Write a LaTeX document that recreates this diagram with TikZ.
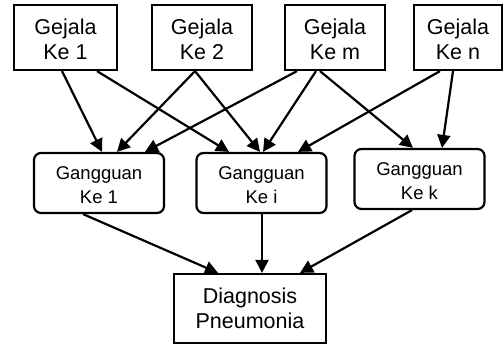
\documentclass[tikz,border=0pt]{standalone}
\usepackage{fontspec}
\setmainfont{Liberation Sans}
\usetikzlibrary{arrows.meta}
% two centred lines, drawn a little lower than the box centre
\newcommand{\turun}[2][5pt]{\raisebox{-#1}[\height][\depth]{\begin{tabular}{@{}c@{}}#2\end{tabular}}}
\tikzset{
  gejala/.style={draw, line width=2.2pt, inner sep=0pt, minimum height=65pt, font=\fontsize{21.5}{25}\selectfont},
  gangguan/.style={draw, rounded corners=7pt, line width=2.2pt, inner sep=0pt, minimum width=130pt, minimum height=60pt, font=\fontsize{18.5}{24}\selectfont},
  panah/.style={-{Triangle[length=13pt,width=13pt]}, line width=2.2pt}
}
\begin{document}
\begin{tikzpicture}[x=1pt, y=-1pt]
    \useasboundingbox (0,0) rectangle (504,345);
    % Symptom boxes
    \node[gejala, minimum width=103pt] (gej1) at (65.5,37.5) {\turun{Gejala\\Ke 1}};
    \node[gejala, minimum width=100pt] (gej2) at (202,37.5) {\turun{Gejala\\Ke 2}};
    \node[gejala, minimum width=100pt] (gejm) at (335,37.5) {\turun{Gejala\\Ke m}};
    \node[gejala, minimum width=88pt] (gejn) at (458,37.5) {\turun{Gejala\\Ke n}};

    % Disorder boxes
    \node[gangguan] (gang1) at (99,183) {\turun[4pt]{Gangguan\\Ke 1}};
    \node[gangguan] (gangi) at (261.5,183) {\turun[4pt]{Gangguan\\Ke i}};
    \node[gangguan] (gangk) at (419.5,179) {\turun[4pt]{Gangguan\\Ke k}};

    % Diagnosis box
    \node[gejala, minimum width=152pt, minimum height=69pt] (diag) at (250,308.5) {\turun[2pt]{Diagnosis\\Pneumonia}};

    % Arrows from symptoms
    \draw[panah] ([xshift=-3.5pt]gej1.south) -- ([xshift=3pt]gang1.north);
    \draw[panah] ([xshift=31.5pt]gej1.south) -- ([xshift=-32.5pt]gangi.north);
    \draw[panah] ([xshift=-7pt]gej2.south) -- ([xshift=18pt]gang1.north);
    \draw[panah] ([xshift=-7pt]gej2.south) -- ([xshift=-1.5pt]gangi.north);
    \draw[panah] ([xshift=-38pt]gejm.south) -- ([xshift=46pt]gang1.north);
    \draw[panah] ([xshift=-19pt]gejm.south) -- ([xshift=1.5pt]gangi.north);
    \draw[panah] ([xshift=-15pt]gejm.south) -- ([xshift=-6.5pt]gangk.north);
    \draw[panah] ([xshift=-18pt]gejn.south) -- ([xshift=36.5pt]gangi.north);
    \draw[panah] ([xshift=-5pt]gejn.south) -- ([xshift=22.5pt]gangk.north);

    % Arrows to diagnosis
    \draw[panah] ([xshift=-16pt]gang1.south) -- ([xshift=-32pt]diag.north);
    \draw[panah] ([xshift=0.5pt]gangi.south) -- ([xshift=12pt]diag.north);
    \draw[panah] ([xshift=-7.5pt]gangk.south) -- ([xshift=50pt]diag.north);
\end{tikzpicture}
\end{document}
